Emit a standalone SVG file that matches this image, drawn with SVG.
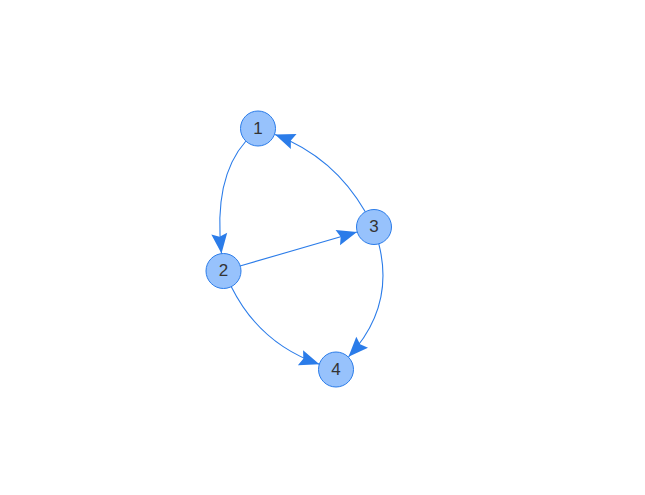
<svg xmlns="http://www.w3.org/2000/svg" width="645" height="495" viewBox="0 0 645 495">
<style>
.node circle{fill:#97C2FC;stroke:#2B7CE9;stroke-width:1}
.node text{font-family:"Liberation Sans",Arial,sans-serif;font-size:17px;fill:#343434;text-anchor:middle;dominant-baseline:central}
.edge{fill:none;stroke:#2B7CE9;stroke-width:1.1}
</style>
<defs>
<marker id="arr" markerUnits="userSpaceOnUse" viewBox="-22 -10 24 20" refX="0" refY="0" markerWidth="24" markerHeight="20" orient="auto">
<path d="M0,0 L-20,-8 L-17,0 L-20,8 Z" fill="#2B7CE9"/>
</marker>
</defs>
<rect width="645" height="495" fill="#ffffff"/>
<g id="edges">
<path class="edge" d="M246,141 Q213,178 221.5,253.6" marker-end="url(#arr)"/>
<path class="edge" d="M365.3,211.8 Q334,157 275,134.4" marker-end="url(#arr)"/>
<path class="edge" d="M240,266 L357,232" marker-end="url(#arr)"/>
<path class="edge" d="M231.3,286.7 Q259.7,343.8 319.4,364.3" marker-end="url(#arr)"/>
<path class="edge" d="M378.8,243.8 Q395,307 348.5,356.8" marker-end="url(#arr)"/>
</g>
<g id="node1" class="node"><circle cx="258" cy="128.5" r="17.5"/><text x="258" y="128">1</text></g>
<g id="node2" class="node"><circle cx="223.5" cy="271" r="17.5"/><text x="223.5" y="270.5">2</text></g>
<g id="node3" class="node"><circle cx="374" cy="227" r="17.5"/><text x="374" y="226.5">3</text></g>
<g id="node4" class="node"><circle cx="336" cy="369.5" r="17.5"/><text x="336" y="369">4</text></g>
</svg>
